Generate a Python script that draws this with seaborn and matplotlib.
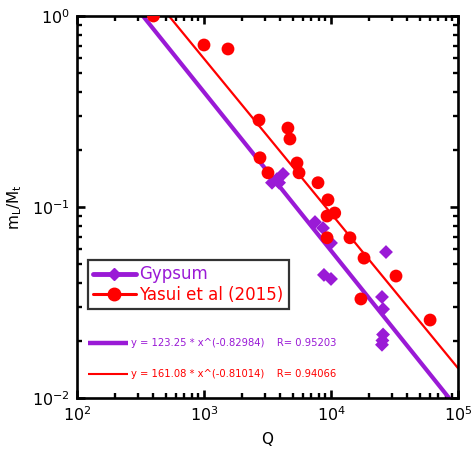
import numpy as np
import pandas as pd
import matplotlib
matplotlib.use("Agg")
import matplotlib.pyplot as plt
import seaborn as sns
from matplotlib.lines import Line2D
from matplotlib.ticker import LogLocator, NullFormatter

# ---- data ----
gyp_q = [3430, 3755, 4190, 3900, 7480, 8650, 10000, 8800, 10000,
         27100, 25200, 25700, 25700, 25400, 25200]
gyp_m = [0.134, 0.140, 0.149, 0.134, 0.0834, 0.0776, 0.0648, 0.0441, 0.042,
         0.0581, 0.0338, 0.0292, 0.0215, 0.0200, 0.0190]

yas_q = [400, 1000, 1545, 2710, 4580, 4750, 2760, 3190, 5400, 5600,
         7900, 9470, 9310, 10700, 9310, 14100, 18200, 32500, 17200, 60300]
yas_m = [1.0, 0.705, 0.672, 0.285, 0.259, 0.227, 0.181, 0.151, 0.170, 0.151,
         0.134, 0.109, 0.0897, 0.093, 0.069, 0.069, 0.054, 0.0435, 0.033, 0.0256]

gyp_fit = (123.25, -0.82984, 0.95203)
yas_fit = (161.08, -0.81014, 0.94066)

series_names = ["Gypsum", "Yasui et al (2015)"]
PURPLE = "#9A1AD6"
RED = "#FF0000"

sns.set_theme(style="ticks")
plt.rcParams['font.family'] = ['DejaVu Sans']
plt.rcParams['text.color'] = 'black'
plt.rcParams['axes.labelcolor'] = 'black'
plt.rcParams['xtick.color'] = 'black'
plt.rcParams['ytick.color'] = 'black'

fig = plt.figure(figsize=(4.71, 4.54), dpi=100)
ax = fig.add_axes([77/471, 1-398/454, (458-77)/471, (398-16)/454])

qq = np.logspace(2, 5, 200)
fit_df = pd.DataFrame({
    "Q": np.concatenate([qq, qq]),
    "m": np.concatenate([gyp_fit[0]*qq**gyp_fit[1], yas_fit[0]*qq**yas_fit[1]]),
    "s": [series_names[0]]*len(qq) + [series_names[1]]*len(qq),
})
sns.lineplot(data=fit_df[fit_df.s == series_names[0]], x="Q", y="m", color=PURPLE,
             lw=3, ax=ax, legend=False, zorder=2)
sns.lineplot(data=fit_df[fit_df.s == series_names[1]], x="Q", y="m", color=RED,
             lw=1.6, ax=ax, legend=False, zorder=2)

sns.scatterplot(x=gyp_q, y=gyp_m, marker="D", s=50, color=PURPLE,
                edgecolor="none", ax=ax, zorder=3)
sns.scatterplot(x=yas_q, y=yas_m, marker="o", s=85, color=RED,
                edgecolor="none", ax=ax, zorder=4)

ax.set_xscale("log")
ax.set_yscale("log")
ax.set_xlim(1e2, 1e5)
ax.set_ylim(1e-2, 1e0)

for sp in ax.spines.values():
    sp.set_linewidth(1.9)
    sp.set_color("black")
    sp.set_visible(True)

ax.xaxis.set_major_locator(LogLocator(base=10, numticks=10))
ax.yaxis.set_major_locator(LogLocator(base=10, numticks=10))
ax.xaxis.set_minor_locator(LogLocator(base=10, subs=np.arange(2, 10), numticks=20))
ax.yaxis.set_minor_locator(LogLocator(base=10, subs=np.arange(2, 10), numticks=20))
ax.xaxis.set_minor_formatter(NullFormatter())
ax.yaxis.set_minor_formatter(NullFormatter())
ax.tick_params(which="major", direction="in", length=6, width=1.9,
               top=True, right=True, labelsize=11.5, pad=5, colors="black")
ax.tick_params(which="minor", direction="in", length=3.5, width=1.7,
               top=True, right=True, colors="black")

ax.set_xlabel("Q", fontsize=11, labelpad=6, color="black")
ax.set_ylabel("m$_\\mathregular{L}$/M$_\\mathregular{t}$", fontsize=11, labelpad=6,
              color="black")

handles = [
    Line2D([0], [0], color=PURPLE, lw=3.5, marker="D", markersize=6),
    Line2D([0], [0], color=RED, lw=2.2, marker="o", markersize=9),
]
leg = ax.legend(handles, series_names, loc="upper left",
                bbox_to_anchor=(0.028, 0.36), frameon=True, fancybox=False,
                fontsize=12, handlelength=2.6, handletextpad=0.2,
                borderpad=0.3, labelspacing=0.15, borderaxespad=0)
leg.get_frame().set_edgecolor("black")
leg.get_frame().set_linewidth(1.6)
for txt, c in zip(leg.get_texts(), [PURPLE, RED]):
    txt.set_color(c)

# equation lines
ax.plot([0.029, 0.135], [0.144, 0.144], transform=ax.transAxes, color=PURPLE,
        lw=3.2, solid_capstyle="butt", clip_on=False)
ax.text(0.142, 0.144, "y = %.2f * x^(%.5f)    R= %.5f" % gyp_fit, transform=ax.transAxes,
        color=PURPLE, fontsize=7.2, va="center", ha="left")
ax.plot([0.029, 0.135], [0.063, 0.063], transform=ax.transAxes, color=RED,
        lw=1.5, solid_capstyle="butt", clip_on=False)
ax.text(0.142, 0.063, "y = %.2f * x^(%.5f)    R= %.5f" % yas_fit, transform=ax.transAxes,
        color=RED, fontsize=7.2, va="center", ha="left")

fig.savefig("out.png", dpi=100)
